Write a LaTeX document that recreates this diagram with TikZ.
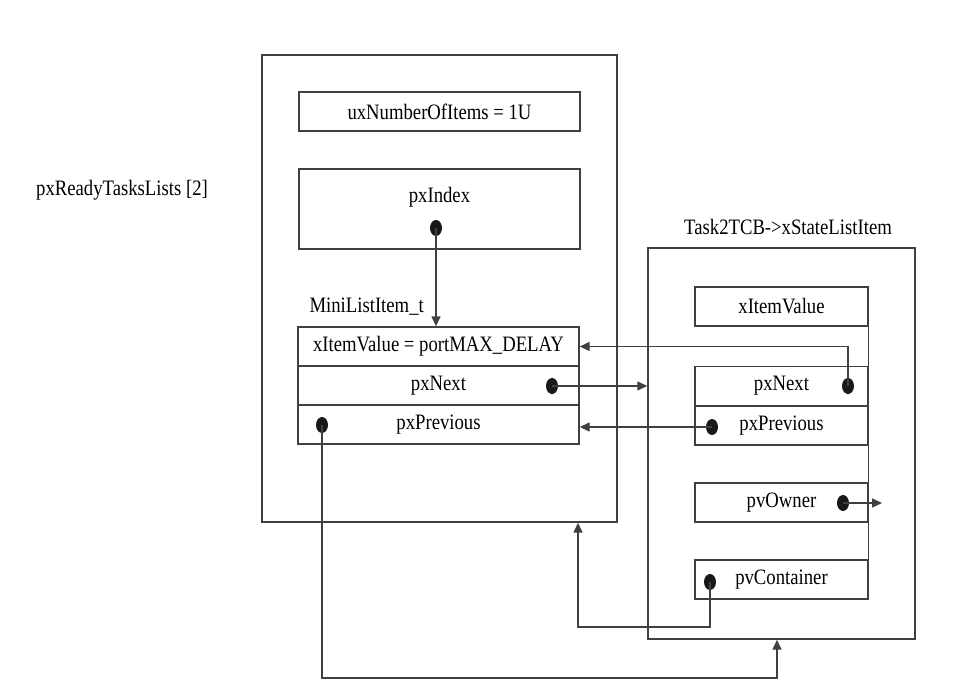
\documentclass[tikz,border=0pt]{standalone}
\usepackage{fontspec}
\setmainfont[FakeStretch=0.85]{Liberation Serif}
\usepackage{tikz}
\usetikzlibrary{arrows.meta, shapes.geometric}

\tikzset{
  box/.style={draw=black!75, line width=1.4pt, rectangle, inner sep=0pt},
  field/.style={box, minimum height=39pt},
  dot/.style={ellipse, fill=black!90, inner sep=0pt, minimum width=12pt, minimum height=16pt},
  ptr/.style={draw=black!75, line width=1.4pt, -{Triangle[length=10pt,width=9pt]}},
}

\begin{document}
\begin{tikzpicture}[x=1pt, y=-1pt, font=\fontsize{22}{24}\selectfont]
  \useasboundingbox (0,0) rectangle (972,693);

  % リスト本体
  \node[anchor=center] (listName) at (122,190) {pxReadyTasksLists [2]};
  \node[box, minimum width=355pt, minimum height=467pt] (readyList) at (439.5,288.5) {};
  \node[field, minimum width=281pt] (numItems) at (439.5,111.5) {uxNumberOfItems = 1U};
  \node[box, minimum width=281pt, minimum height=80pt] (idxBox) at (439.5,209) {};
  \node (idxText) at (439.5,197) {pxIndex};
  \node[dot] (idxDot) at (436,228) {};

  % MiniListItem_t
  \node[anchor=base west] (miniName) at (306,312) {MiniListItem\_t};
  \node[field, minimum width=281pt] (miniValue) at (438.5,346.5) {xItemValue = portMAX\_DELAY};
  \node[field, minimum width=281pt] (miniNext) at (438.5,385.5) {pxNext};
  \node[field, minimum width=281pt] (miniPrev) at (438.5,424.5) {pxPrevious};
  \node[dot] (nextDotL) at (552,386) {};
  \node[dot] (prevDotL) at (322,425) {};

  % Task2TCB->xStateListItem
  \node (tcbName) at (788,227) {Task2TCB->xStateListItem};
  \node[box, minimum width=267pt, minimum height=391pt] (tcbBox) at (781.5,443.5) {};
  \node[field, minimum width=173pt] (itemValue) at (781.5,306.5) {xItemValue};
  \node[field, minimum width=173pt] (itemNext) at (781.5,386) {pxNext};
  \node[field, minimum width=173pt] (itemPrev) at (781.5,425.5) {pxPrevious};
  \node[field, minimum width=173pt] (itemOwner) at (781.5,502.5) {pvOwner};
  \node[field, minimum width=173pt] (itemCont) at (781.5,579.5) {pvContainer};
  \draw[black!75, line width=1.4pt] (itemValue.north east) -- (itemCont.south east);
  \node[dot] (nextDotR) at (848,386) {};
  \node[dot] (prevDotR) at (712,427) {};
  \node[dot] (ownerDot) at (843,503) {};
  \node[dot] (contDot) at (710,582) {};

  % ポインタ
  \coordinate (ownerEnd) at (882,503);
  \coordinate (contBend) at (578,627);
  \coordinate (prevBend) at (777,678);
  \draw[ptr] (idxDot.center) -- (idxDot |- miniValue.north);
  \draw[ptr] (nextDotL.center) -- (nextDotL -| tcbBox.west);
  \draw[ptr] (nextDotR.center) |- (miniValue.east);
  \draw[ptr] (prevDotR.center) -- (prevDotR -| miniPrev.east);
  \draw[ptr] (ownerDot.center) -- (ownerEnd);
  \draw[ptr] (contDot.center) |- (contBend) -- (contBend |- readyList.south);
  \draw[ptr] (prevDotL.center) |- (prevBend) -- (prevBend |- tcbBox.south);
\end{tikzpicture}
\end{document}
